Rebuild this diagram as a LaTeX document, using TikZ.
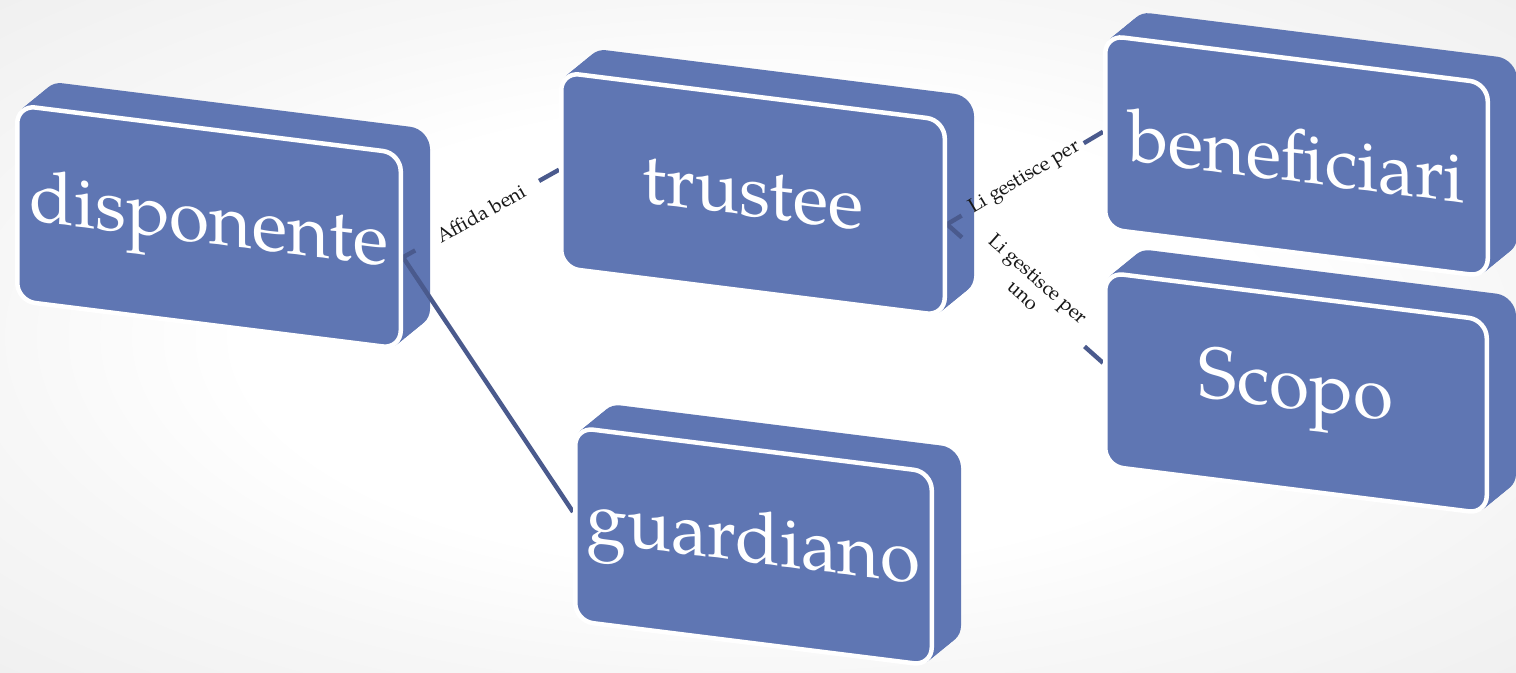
\documentclass[tikz,border=0pt]{standalone}
\usepackage{fontspec}
\setmainfont{texgyrepagella-regular.otf}
\pgfdeclarelayer{back}
\pgfdeclarelayer{bg}
\pgfdeclarelayer{mid}
\pgfsetlayers{back,bg,mid,main}
\definecolor{slabblue}{HTML}{5F76B3}
\definecolor{linkblue}{HTML}{4A5A8D}
\pgfdeclareradialshading{vignette}{\pgfpoint{0bp}{0bp}}{color(0bp)=(white); color(17bp)=(white); color(25bp)=(black!3); color(36bp)=(black!6); color(50bp)=(black!6)}
\tikzset{
  slabback/.style={fill=slabblue, draw=slabblue, line width=2.25pt, rounded corners=9pt, yslant=-0.125, inner sep=0pt},
  slabfront/.style={fill=slabblue, draw=white, line width=2.25pt, rounded corners=9pt, yslant=-0.125, text=white, font=\fontsize{36.5}{40}\selectfont, inner sep=0pt},
  link/.style={draw=linkblue, line width=2.2pt},
  linklabel/.style={sloped, font=\fontsize{10}{11}\selectfont, text=black!90, inner sep=1pt, align=center},
}
\newcommand{\slab}[6]{%
  \begin{pgfonlayer}{bg}
  \foreach \k in {1,...,12}{%
    \node[slabback, minimum width=#4, minimum height=#5] (#1-d\k) at ({#2+27*(13-\k)/12}, {#3-22*(13-\k)/12}) {};
  }
  \end{pgfonlayer}
  \node[slabfront, minimum width=#4, minimum height=#5] (#1) at (#2,#3) {\raisebox{-3pt}{#6}};
}
\begin{document}
\begin{tikzpicture}[x=0.5pt, y=-0.5pt]
\useasboundingbox (0,0) rectangle (1516,673);
\begin{pgfonlayer}{back}
\shade[shading=vignette] (0,0) rectangle (1516,673);
\end{pgfonlayer}
\slab{disp}{209}{227}{191.75pt}{97.75pt}{disponente}
\slab{trus}{753}{194}{191.75pt}{97.75pt}{trustee}
\slab{guar}{753.5}{546.5}{178.25pt}{96.75pt}{guardiano}
\slab{scop}{1296}{393}{190.75pt}{96.75pt}{Scopo}
\slab{bene}{1296.5}{156}{191.25pt}{96.75pt}{beneficiari}
\begin{pgfonlayer}{mid}
\draw[link, dash pattern=on 7pt off 71pt on 40pt] ([yshift=-3pt]disp.east) -- node[linklabel] (lab1) {Affida beni} (trus.west);
\draw[link] ([yshift=-3pt]disp.east) -- ([yshift=6pt]guar.west);
\draw[link, dash pattern=on 8.5pt off 71pt on 40pt] ([yshift=-3pt]trus.east) -- node[linklabel] (lab2) {Li gestisce per} (bene.west);
\draw[link, dash pattern=on 10pt off 82pt on 40pt] ([yshift=-3pt]trus.east) -- node[linklabel, yshift=4.5pt] (lab3) {Li gestisce per\\uno} ([yshift=3pt]scop.west);
\end{pgfonlayer}
\end{tikzpicture}
\end{document}
